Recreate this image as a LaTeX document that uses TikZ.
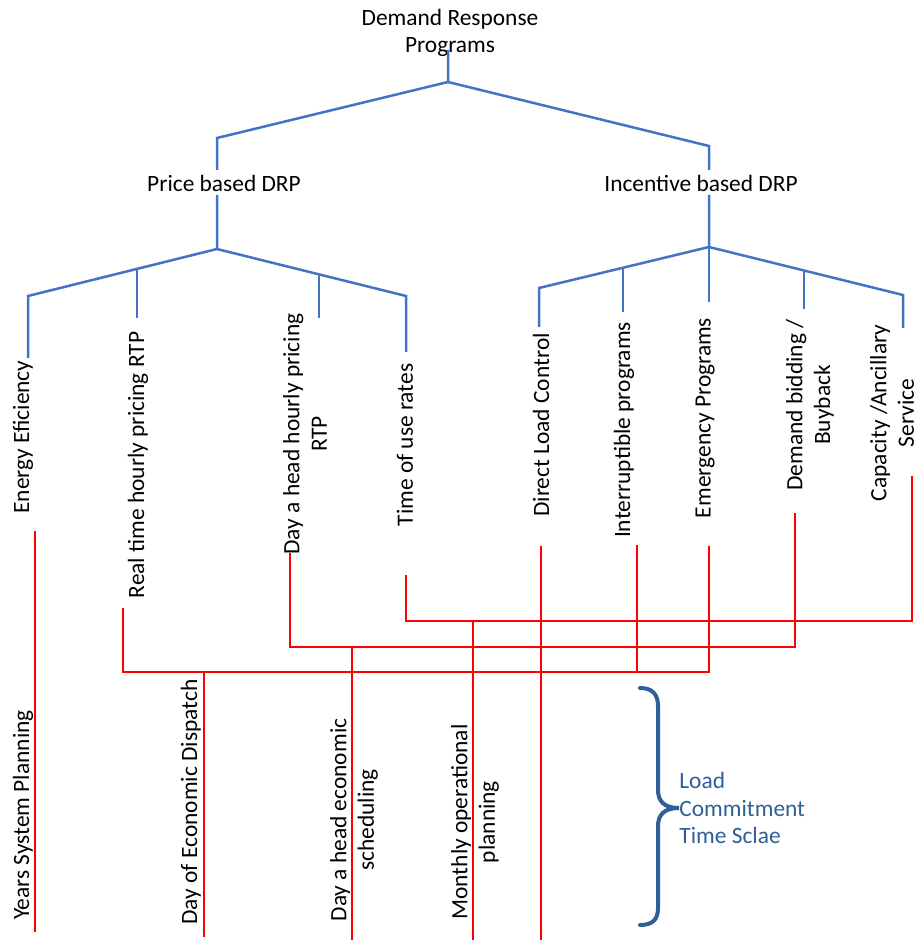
\documentclass[tikz,border=0pt]{standalone}
\usepackage{fontspec}
\setmainfont{Carlito}
\usepackage{tikz}
\usetikzlibrary{calc}
\definecolor{treeblue}{RGB}{68,114,196}
\definecolor{bracebl}{RGB}{46,95,150}

\begin{document}
\begin{tikzpicture}[x=0.5pt,y=-0.5pt,font=\fontsize{11.7}{13.8}\selectfont,
 bl/.style={treeblue,line width=1.25pt},
 rd/.style={red,line width=1pt},
 vlab/.style={rotate=90,align=center,inner sep=0pt},
 ]
 \useasboundingbox (0,0) rectangle (921,940);
 % heads of the tree
 \node[align=center] (drp) at (450,33) {Demand Response\\Programs};
 \node (price) at (224,183) {Price based DRP};
 \node (incent) at (701,183) {Incentive based DRP};
 % programs
 \node[vlab] (ee) at (23,437) {Energy Eficiency};
 \node[vlab] (rtp) at (138,465) {Real time hourly pricing RTP};
 \node[vlab] (dahp) at (305,434) {Day a head hourly pricing\\RTP};
 \node[vlab] (tou) at (405,445) {Time of use rates};
 \node[vlab] (dlc) at (541,425) {Direct Load Control};
 \node[vlab] (intr) at (624,430) {Interruptible programs};
 \node[vlab] (emer) at (705,418) {Emergency Programs};
 \node[vlab] (bid) at (810,405) {Demand bidding /\\Buyback};
 \node[vlab] (cap) at (892,413) {Capacity /Ancillary\\Service};
 % time scales
 \node[vlab] (ysp) at (23,815) {Years System Planning};
 \node[vlab] (ded) at (191,802) {Day of Economic Dispatch};
 \node[vlab] (dahs) at (354,820) {Day a head economic\\scheduling};
 \node[vlab] (mop) at (475,822) {Monthly operational\\planning};
 \node[bracebl,align=left,anchor=west,inner sep=0pt] (lcts) at (679,808)
   {Load\\Commitment\\Time Sclae};

 % blue tree
 \coordinate (j0) at (448,82);
 \coordinate (jp) at (217,249);
 \coordinate (ji) at (709,247);
 \draw[bl] (448,50) -- (j0) -- (217,138) -- (217,170);
 \draw[bl] (j0) -- (709,146) -- (709,170);
 \draw[bl] (217,195) -- (jp) -- (28,296) -- (28,358);
 \draw[bl] (jp) -- (406,296) -- (406,352);
 \draw[bl] (137,269) -- (137,318);
 \draw[bl] (319,274) -- (319,318);
 \draw[bl] (709,195) -- (ji) -- (539,288) -- (539,327);
 \draw[bl] (ji) -- (903,295) -- (903,328);
 \draw[bl] (623,268) -- (623,312);
 \draw[bl] (ji) -- (709,302);
 \draw[bl] (804,270) -- (804,309);

 % red time scale links
 \draw[rd] (35,531) -- (35,932);
 \draw[rd] (123,608) -- (123,672) -- (709,672) -- (709,546);
 \draw[rd] (637,545) -- (637,672);
 \draw[rd] (204,672) -- (204,937);
 \draw[rd] (290,553) -- (290,647) -- (795,647) -- (795,513);
 \draw[rd] (352,647) -- (352,940);
 \draw[rd] (406,575) -- (406,621) -- (912,621) -- (912,476);
 \draw[rd] (473,621) -- (473,940);
 \draw[rd] (541,546) -- (541,940);

 % brace
 \draw[bracebl,line width=2pt,line cap=round] (640,688)
   .. controls (652,688) and (658,694) .. (658,706) -- (658,790)
   .. controls (658,801) and (664,808) .. (lcts.west)
   .. controls (664,808) and (658,815) .. (658,826) -- (658,908)
   .. controls (658,920) and (652,925) .. (640,925);
\end{tikzpicture}
\end{document}
